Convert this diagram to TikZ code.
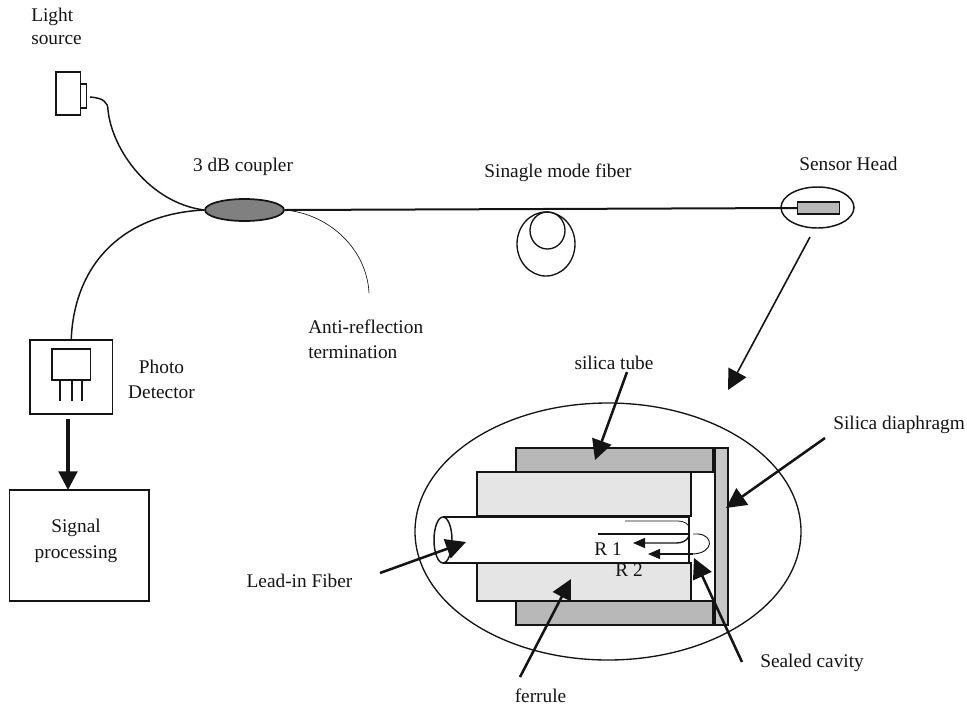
\documentclass[tikz,border=0pt]{standalone}
\usepackage{fontspec}
\setmainfont{Liberation Serif}
\usetikzlibrary{arrows.meta,shapes.geometric}
\def\px{0.75pt}
\definecolor{tubegray}{gray}{0.72}
\definecolor{ferrgray}{gray}{0.90}
\definecolor{diagray}{gray}{0.78}
\definecolor{coupgray}{gray}{0.50}
\definecolor{inkc}{gray}{0.08}
\tikzset{
  x=0.75pt,y=-0.75pt,
  every path/.style={color=inkc},
  lbl/.style={font=\fontsize{14.5}{19}\selectfont,text=inkc,inner sep=0pt,align=center},
  lbll/.style={lbl,align=left,anchor=west},
  blk/.style={draw=inkc,line width=1.6pt,rectangle,inner sep=0pt,outer sep=0pt},
  thickfib/.style={line width=1.1pt},
  thinfib/.style={line width=0.5pt},
  medline/.style={line width=1.1pt},
  bigarrow/.style={line width=1.9pt,-{Triangle[length=15pt,width=15pt]}},
  slimarrow/.style={line width=1.2pt,-{Triangle[length=15pt,width=15pt]}},
  tinyarrow/.style={line width=1pt,-{Triangle[length=9pt,width=7.5pt]}},
}
\begin{document}
\begin{tikzpicture}
\useasboundingbox (0,0) rectangle (967,708);
% light source
\node[blk,line width=1.1pt,minimum width=24.5*\px,minimum height=43*\px] (ls) at (68.2,93.5) {};
\node[blk,line width=1pt,minimum width=6*\px,minimum height=24*\px] (lsport) at (83.2,96) {};
\coordinate (lsend) at (90,97);
% coupler
\node[ellipse,draw=inkc,line width=1.3pt,fill=coupgray,inner sep=0pt,minimum width=79*\px,minimum height=22*\px] (coupler) at (244.5,210) {};
% photo detector
\node[blk,line width=1.2pt,minimum width=82.5*\px,minimum height=74*\px] (pd) at (71.2,377) {};
\node[blk,line width=1.2pt,minimum width=38.5*\px,minimum height=31*\px] (chip) at (71.2,364.5) {};
\coordinate (leg1t) at (60,380);\coordinate (leg1b) at (60,401);
\coordinate (leg2t) at (72,380);\coordinate (leg2b) at (72,401);
\coordinate (leg3t) at (82,380);\coordinate (leg3b) at (82,401);
\draw[medline] (leg1t)--(leg1b) (leg2t)--(leg2b) (leg3t)--(leg3b);
% signal processing
\node[blk,line width=1.3pt,minimum width=139.5*\px,minimum height=111*\px] (sp) at (79.2,545.5) {};
\node[lbl] (sptxt) at (76,541) {Signal\\processing};
% fibres
\draw[thickfib] (lsend) .. controls (103,98) and (108,102) .. (108,110) .. controls (112,150) and (150,203) .. (coupler.west);
\draw[thickfib] (pd.north) .. controls (74,265) and (122,214) .. (coupler.west);
\draw[thinfib] (coupler.east) .. controls (330,214) and (367,250) .. (369,293) coordinate (arend);
% sensor head
\node[ellipse,draw=inkc,line width=1.1pt,inner sep=0pt,minimum width=73*\px,minimum height=41*\px] (sh) at (817.5,207.5) {};
\node[draw=inkc,line width=0.8pt,fill=tubegray,inner sep=0pt,minimum width=41.5*\px,minimum height=12*\px] (probe) at (818.7,208) {};
\draw[line width=1.5pt] (coupler.east) -- (probe.west);
% coil
\node[ellipse,draw=inkc,line width=1pt,inner sep=0pt,minimum width=58*\px,minimum height=64*\px] (coilo) at (546,244) {};
\node[ellipse,draw=inkc,line width=1pt,inner sep=0pt,minimum width=35*\px,minimum height=37*\px] (coili) at (547.5,230.5) {};
% enlarged head
\node[ellipse,draw=inkc,line width=1pt,inner sep=0pt,minimum width=386*\px,minimum height=257*\px] (big) at (608,531.5) {};
\node[blk,line width=1.1pt,fill=tubegray,minimum width=197*\px,minimum height=24*\px] (tubet) at (614.5,460) {};
\node[blk,line width=1.1pt,fill=tubegray,minimum width=197*\px,minimum height=24*\px] (tubeb) at (614.5,613) {};
\node[blk,line width=0.9pt,fill=ferrgray,minimum width=214*\px,minimum height=44*\px] (ferrt) at (584,494) {};
\node[blk,line width=0.9pt,fill=ferrgray,minimum width=214*\px,minimum height=38*\px] (ferrb) at (584,582) {};
\node[blk,line width=1.1pt,fill=diagray,minimum width=13*\px,minimum height=177*\px] (dia) at (721.5,536.5) {};
% lead-in fibre
\coordinate (ft) at (443,517);\coordinate (fb) at (443,563);
\coordinate (fte) at (689,517);\coordinate (fbe) at (689,563);
\draw[line width=0.9pt] (ft) -- (fte);
\draw[line width=1.6pt] (fb) -- (fbe);
\draw[line width=1pt] (fte) -- (fbe);
\node[ellipse,draw=inkc,line width=1.1pt,inner sep=0pt,minimum width=18*\px,minimum height=46*\px] (fend) at (443,540) {};
% reflected rays
\coordinate (a1) at (625,521);\coordinate (a2) at (678,521);\coordinate (a3) at (689,528);
\draw[line width=0.6pt] (a1) -- (a2) .. controls (684,521) and (689,524) .. (a3);
\coordinate (b1) at (598,534);\coordinate (b2) at (689,534);
\draw[line width=1pt] (b1) -- (b2);
\coordinate (c1) at (689,536);\coordinate (c2) at (676,543);\coordinate (c3) at (633,543);
\draw[tinyarrow] (c1) .. controls (687,541) and (682,543) .. (c2) -- (c3);
\coordinate (d1) at (693,534);\coordinate (d2) at (693,554);\coordinate (d3) at (648,554);
\draw[line width=0.7pt] (d1) -- (698,534) .. controls (714,535) and (714,553) .. (d2);
\draw[tinyarrow] (d2) -- (d3);
\node[lbl] (r1) at (608,549) {R 1};
\node[lbl] (r2) at (629,570) {R 2};
% labels
\node[lbll,font=\fontsize{14.5}{17.3}\selectfont] (tls) at (31,26.5) {Light\\source};
\node[lbl] (tcoup) at (243,167) {3 dB coupler};
\node[lbl] (tsmf) at (558,173) {Sinagle mode fiber};
\node[lbll] (tsh) at (799,164) {Sensor Head};
\node[lbll] (tar) at (308,339.5) {Anti-reflection\\termination};
\node[lbl] (tpd) at (161.5,379.5) {Photo\\Detector};
\node[lbl] (tst) at (614,363) {silica tube};
\node[lbll] (tsd) at (833,425) {Silica diaphragm};
\node[lbl] (tlf) at (299.5,581) {Lead-in Fiber};
\node[lbll] (tsc) at (760,663) {Sealed cavity};
\node[lbl] (tfe) at (540.5,696) {ferrule};
% arrows
\coordinate (pda) at (68,419);\coordinate (spa) at (68,490);
\draw[line width=2.4pt,-{Triangle[length=14pt,width=14pt]}] (pda) -- (spa);
\coordinate (sha) at (810,237);\coordinate (shb) at (728,390);
\draw[slimarrow] (sha) -- (shb);
\coordinate (sta) at (627,372);\coordinate (stb) at (595,460);
\draw[bigarrow] (sta) -- (stb);
\coordinate (sda) at (825,438);\coordinate (sdb) at (726,508);
\draw[bigarrow] (sda) -- (sdb);
\coordinate (lfa) at (380,573);\coordinate (lfb) at (466,542);
\draw[bigarrow] (lfa) -- (lfb);
\coordinate (fea) at (520,677);\coordinate (feb) at (571,579);
\draw[bigarrow] (fea) -- (feb);
\coordinate (sca) at (742,662);\coordinate (scb) at (694,558);
\draw[bigarrow] (sca) -- (scb);
\end{tikzpicture}
\end{document}
